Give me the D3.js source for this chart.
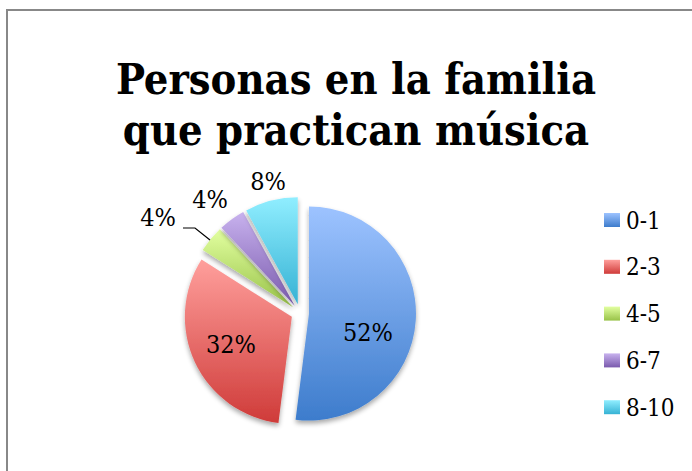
<!DOCTYPE html>
<html><head><meta charset="utf-8">
<script src="https://cdn.jsdelivr.net/npm/d3@7"></script>
<style>body{margin:0;background:#fff}svg{display:block}</style>
</head><body>
<script>
const categories = ["0-1","2-3","4-5","6-7","8-10"];
const values = [52,32,4,4,8];
const labels = ["52%","32%","4%","4%","8%"];
const colorsTop = ["#9dc3ff","#ff9f9c","#e2ffa0","#c8b2ee","#90eeff"];
const colorsBot = ["#3d7ccc","#cf3b39","#98c248","#7a5aad","#36b2d4"];
const title = ["Personas en la familia","que practican música"];

const W=692,H=471;
const FONT="'DejaVu Serif Condensed','DejaVu Serif',serif";
const svg=d3.select("body").append("svg").attr("width",W).attr("height",H);
const defs=svg.append("defs");
categories.forEach((c,i)=>{
  const g=defs.append("linearGradient").attr("id","g"+i).attr("x1",0).attr("y1",0).attr("x2",0).attr("y2",1);
  g.append("stop").attr("offset","0%").attr("stop-color",colorsTop[i]);
  g.append("stop").attr("offset","100%").attr("stop-color",colorsBot[i]);
});
const f=defs.append("filter").attr("id","sh").attr("x","-20%").attr("y","-20%").attr("width","140%").attr("height","140%");
f.append("feGaussianBlur").attr("in","SourceAlpha").attr("stdDeviation",2.5);
f.append("feOffset").attr("dx",0).attr("dy",3).attr("result","b");
f.append("feComponentTransfer").append("feFuncA").attr("type","linear").attr("slope",0.35);
const m=f.append("feMerge");m.append("feMergeNode");m.append("feMergeNode").attr("in","SourceGraphic");

svg.append("rect").attr("x",7).attr("y",10).attr("width",W).attr("height",H).attr("fill","none").attr("stroke","#888").attr("stroke-width",2);

svg.append("text").attr("text-anchor","middle")
  .style("font-family",FONT).style("font-stretch","condensed").style("font-weight","bold").style("font-size","43px").attr("fill","#000")
  .selectAll("tspan").data(title).join("tspan").attr("x",356).attr("y",(d,i)=>94+i*51).text(d=>d);

const cx=300,cy=313,r=107,ex=9;
const pie=d3.pie().sort(null).value(d=>d)(values);
const arc=d3.arc().innerRadius(0).outerRadius(r);
const g=svg.append("g").attr("transform",`translate(${cx},${cy})`);
pie.forEach((p,i)=>{
  const a=(p.startAngle+p.endAngle)/2;
  const dx=Math.sin(a)*ex, dy=-Math.cos(a)*ex;
  g.append("path").attr("d",arc(p)).attr("transform",`translate(${dx},${dy})`)
   .attr("fill",`url(#g${i})`).attr("filter","url(#sh)");
});
const lab=g.append("g").style("font-family",FONT).style("font-stretch","condensed").style("font-size","25px").attr("fill","#000").attr("text-anchor","middle");
const labPos=[[68,19],[-69,31],[-142,-96],[-90,-114],[-32,-132]];
pie.forEach((p,i)=>{
  lab.append("text").attr("x",labPos[i][0]).attr("y",labPos[i][1]).attr("dy","0.35em").text(labels[i]);
});
g.append("path").attr("d","M-117,-85 L-105,-85 L-90,-73").attr("fill","none").attr("stroke","#000").attr("stroke-width",1.2);

const leg=svg.append("g").style("font-family",FONT).style("font-stretch","condensed").style("font-size","24px");
categories.forEach((c,i)=>{
  const y=220+i*46.8;
  leg.append("rect").attr("x",604).attr("y",y-7).attr("width",16).attr("height",14).attr("fill",`url(#g${i})`);
  leg.append("text").attr("x",626).attr("y",y).attr("dy","0.36em").text(c);
});
</script>
</body></html>
